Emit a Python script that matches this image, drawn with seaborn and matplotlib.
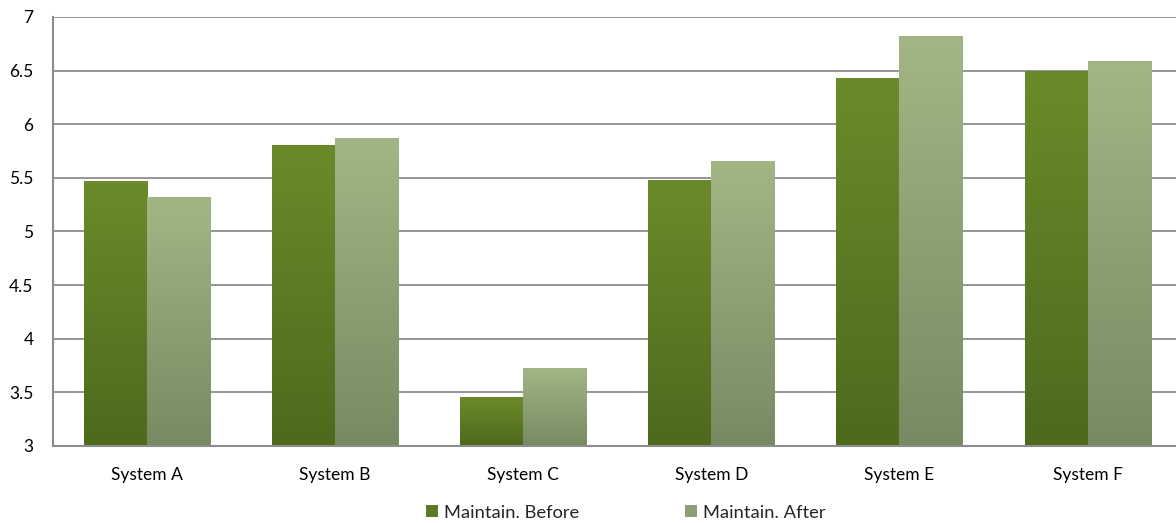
import numpy as np
import pandas as pd
import matplotlib
matplotlib.use("Agg")
import matplotlib.pyplot as plt
from matplotlib.colors import LinearSegmentedColormap, to_hex
from matplotlib.patches import Patch
import seaborn as sns

systems = ["System A", "System B", "System C", "System D", "System E", "System F"]
before = [5.47, 5.81, 3.46, 5.48, 6.43, 6.50]
after = [5.32, 5.87, 3.73, 5.66, 6.82, 6.59]
series = ["Maintain. Before", "Maintain. After"]
y_ticks = [3, 3.5, 4, 4.5, 5, 5.5, 6, 6.5, 7]
y_min, y_max = 3, 7

df = pd.DataFrame({
    "system": systems * 2,
    "value": before + after,
    "series": [series[0]] * len(systems) + [series[1]] * len(systems),
})

# top -> bottom colours for each series' gradient fill
grad = {
    series[0]: ("#6b8b2a", "#4d6a1d"),
    series[1]: ("#a2b685", "#788a62"),
}

sns.set_theme(style="white")
plt.rcParams["font.family"] = ["Lato", "DejaVu Sans"]

fig = plt.figure(figsize=(11.76, 5.23), dpi=100)
ax = fig.add_axes([53 / 1176, 1 - 446 / 523, 1 - 53 / 1176, (446 - 17) / 523])

palette = {s: grad[s][0] for s in series}
sns.barplot(data=df, x="system", y="value", hue="series", order=systems,
            hue_order=series, palette=palette, width=0.67, gap=0,
            saturation=1, legend=False, ax=ax, zorder=3)

ax.set_ylim(y_min, y_max)
ax.set_xlim(-0.5, 5.47)
ax.set_yticks(y_ticks)
ax.set_yticklabels([f"{t:g}" for t in y_ticks])
ax.set_xlabel("")
ax.set_ylabel("")
ax.yaxis.grid(True, color="#8c8c8c", linewidth=1.3, zorder=0)
ax.set_axisbelow(True)

for side in ["top", "right"]:
    ax.spines[side].set_visible(False)
for side in ["left", "bottom"]:
    ax.spines[side].set_color("#8c8c8c")
    ax.spines[side].set_linewidth(1.5)
    ax.spines[side].set_zorder(5)

ax.tick_params(axis="both", length=0, labelsize=12.5, colors="#000000")
ax.tick_params(axis="y", pad=14)
ax.tick_params(axis="x", pad=15)

# Bars start at the axis floor; fill each with a vertical gradient
first_hex = to_hex(grad[series[0]][0])
for p in list(ax.patches):
    if p.get_height() <= 0:
        continue
    name = series[0] if to_hex(p.get_facecolor()) == first_hex else series[1]
    top_val = p.get_y() + p.get_height()
    p.set_y(y_min)
    p.set_height(top_val - y_min)
    p.set_edgecolor("none")
    top, bottom = grad[name]
    cmap = LinearSegmentedColormap.from_list("g", [bottom, top])
    x0, w = p.get_x(), p.get_width()
    img = np.linspace(0, 1, 256).reshape(-1, 1)
    im = ax.imshow(img, cmap=cmap, origin="lower", aspect="auto",
                   extent=(x0, x0 + w, y_min, top_val), zorder=3.5,
                   interpolation="bilinear")
    im.set_clip_path(p)

ax.set_xlim(-0.5, 5.47)
ax.set_ylim(y_min, y_max)

handles = [Patch(facecolor="#5b7a24", edgecolor="none"),
           Patch(facecolor="#8da073", edgecolor="none")]
fig.legend(handles, series, loc="center", bbox_to_anchor=(0.532, 0.02),
           ncol=2, frameon=False, fontsize=13.2, handlelength=0.65,
           handleheight=0.65, handletextpad=0.3, columnspacing=5.8,
           borderaxespad=0)

fig.savefig("out.png", dpi=100)
